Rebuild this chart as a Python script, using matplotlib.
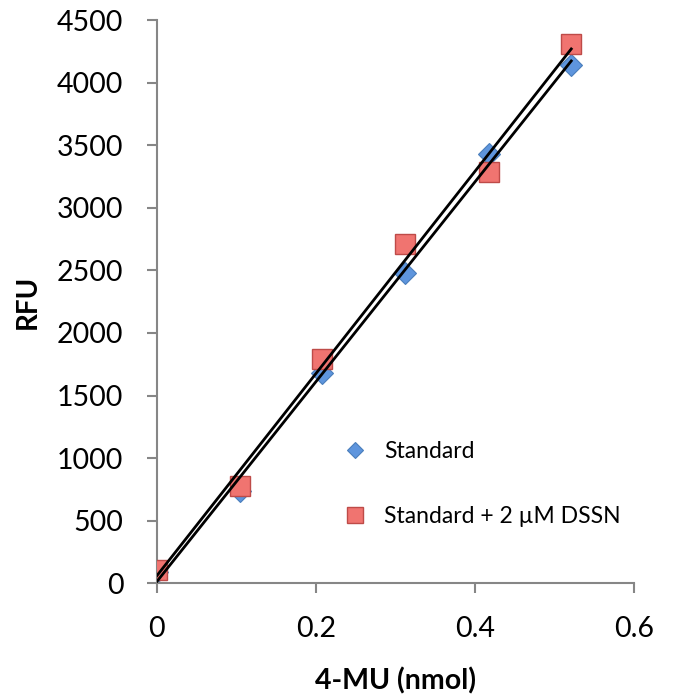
import numpy as np
import matplotlib.pyplot as plt

# 4-MU standard curve, with and without DSSN
x = [0, 0.104, 0.208, 0.3125, 0.417, 0.521]
std = [90, 735, 1680, 2480, 3430, 4143]
std_dssn = [104, 773, 1795, 2712, 3289, 4311]

plt.rcParams['font.family'] = ['Lato', 'DejaVu Sans']

fig = plt.figure(figsize=(6.76, 7), dpi=100)
ax = fig.add_axes([0.232, 0.167, 0.706, 0.804])

ax.plot(x, std, linestyle='none', marker='D', markersize=11.5,
        markerfacecolor='#5E95DD', markeredgecolor='#4A7EBB', markeredgewidth=0.8,
        label='Standard', zorder=2)
ax.plot(x, std_dssn, linestyle='none', marker='s', markersize=15,
        markerfacecolor='#F07470', markeredgecolor='#BE4B48', markeredgewidth=1,
        label='Standard + 2 \u00b5M DSSN', zorder=3)

# linear trendlines
for ys in (std, std_dssn):
    m, b = np.polyfit(x, ys, 1)
    xs = np.array([0, x[-1]])
    ax.plot(xs, m * xs + b, color='black', lw=2, zorder=4)

ax.set_xlim(0, 0.6)
ax.set_ylim(0, 4500)
ax.set_xticks([0, 0.2, 0.4, 0.6])
ax.set_xticklabels(['0', '0.2', '0.4', '0.6'])
ax.set_yticks(range(0, 4501, 500))

for s in ['top', 'right']:
    ax.spines[s].set_visible(False)
for s in ['left', 'bottom']:
    ax.spines[s].set_color('#868686')
    ax.spines[s].set_linewidth(1.5)
ax.tick_params(direction='out', length=7, width=1.5, color='#868686',
               labelsize=20.5)
ax.tick_params(axis='y', pad=17)
ax.tick_params(axis='x', pad=17)

ax.set_xlabel('4-MU (nmol)', fontsize=20.5, fontweight='bold', labelpad=18)
ax.set_ylabel('RFU', fontsize=20, fontweight='bold', labelpad=12)

leg = ax.legend(loc='center left', bbox_to_anchor=(0.325, 0.176), frameon=False,
                fontsize=16.5, labelspacing=1.9, handletextpad=0.25,
                markerscale=0.75)

fig.savefig('out.png', dpi=100)
